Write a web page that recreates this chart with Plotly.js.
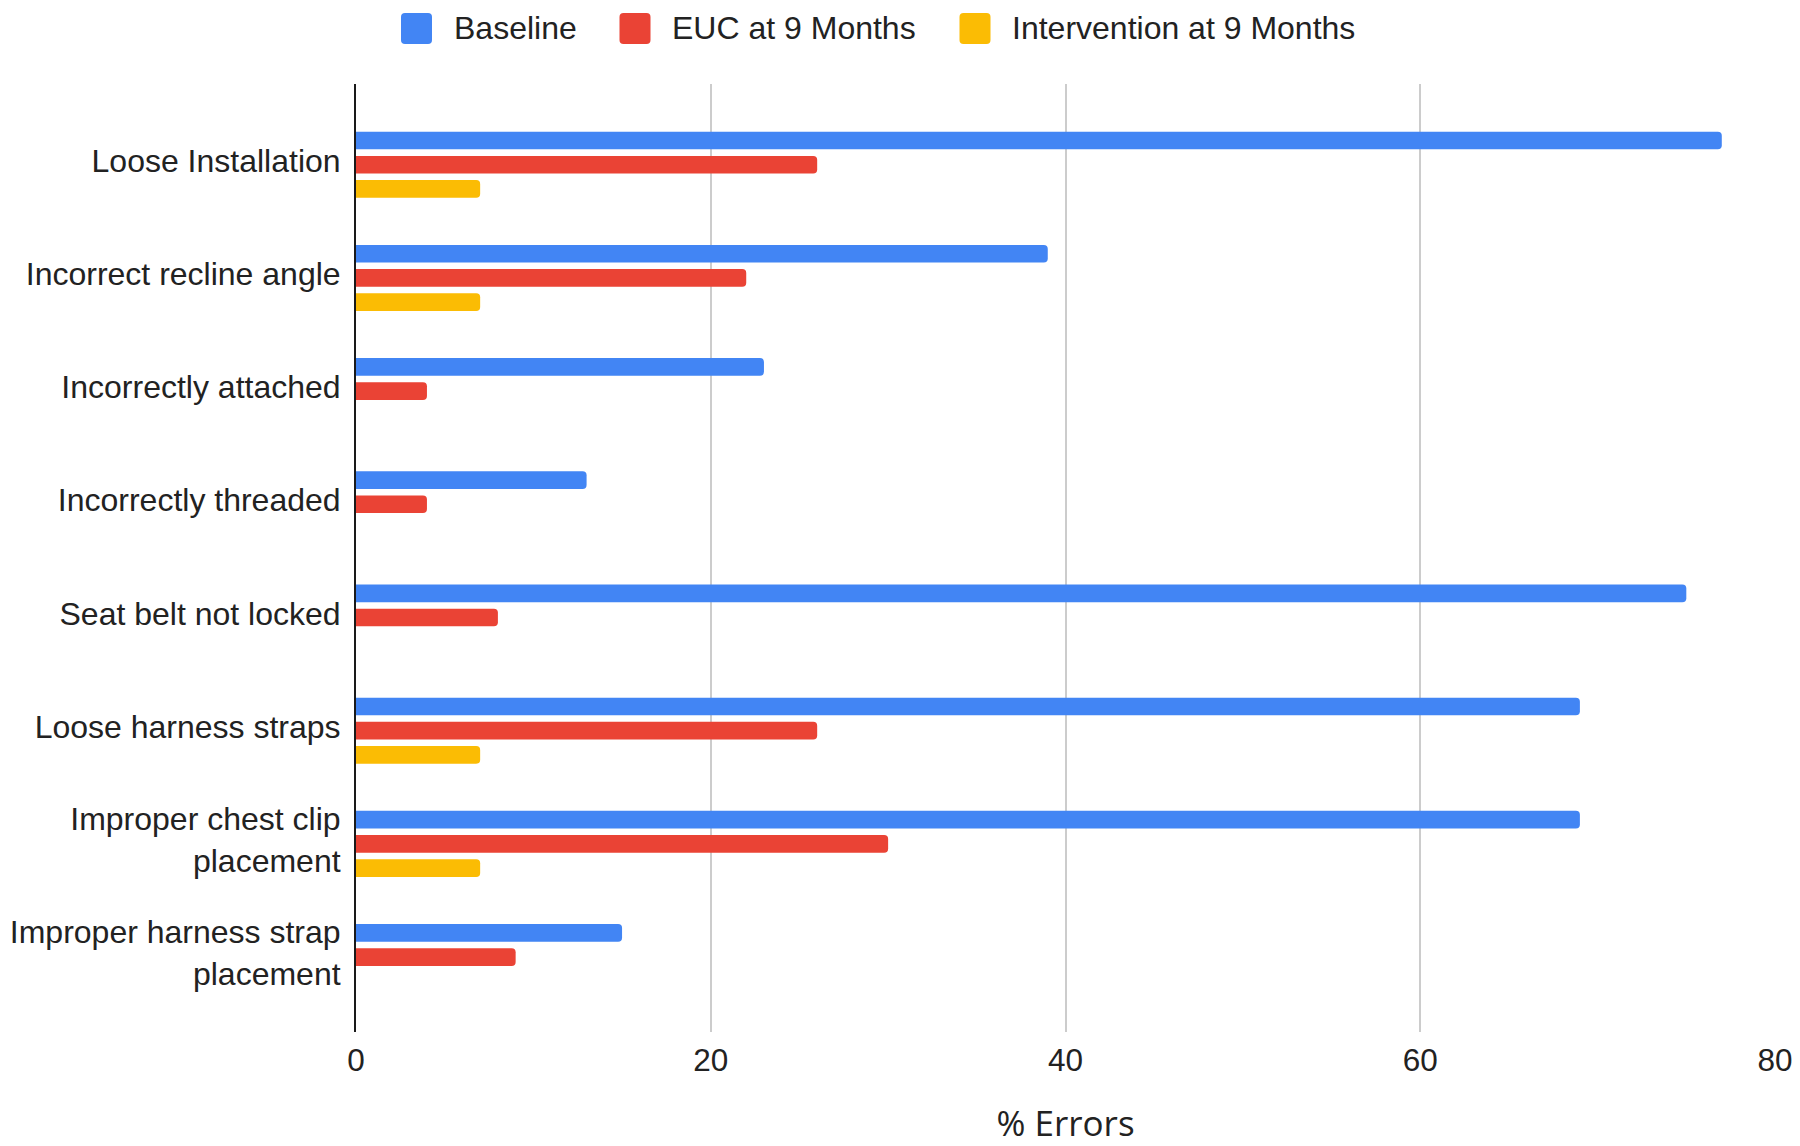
<!DOCTYPE html>
<html>
<head>
<meta charset="utf-8">
<script src="https://cdn.plot.ly/plotly-3.0.1.min.js"></script>
<style>
  html, body { margin: 0; padding: 0; background: #ffffff; }
  #chart { width: 1800px; height: 1146px; }
</style>
</head>
<body>
<div id="chart"></div>
<script>
// ---- Data ----
const categories = [
  "Loose Installation",
  "Incorrect recline angle",
  "Incorrectly attached",
  "Incorrectly threaded",
  "Seat belt not locked",
  "Loose harness straps",
  "Improper chest clip<br>placement",
  "Improper harness strap<br>placement"
];
const seriesNames = ["Baseline", "EUC at 9 Months", "Intervention at 9 Months"];
const baseline     = [77, 39, 23, 13, 75, 69, 69, 15];
const euc9         = [26, 22, 4, 4, 8, 26, 30, 9];
const intervention9 = [7, 7, null, null, null, 7, 7, null];
const xTicks = [0, 20, 40, 60, 80];

// ---- Styles ----
const colors = ["#4285F4", "#EA4335", "#FBBC04"];
const seriesValues = [baseline, euc9, intervention9];
const FONT = "Liberation Sans, Arial, Helvetica, sans-serif";

// plot area in pixels
const M = { l: 356, r: 25, t: 84, b: 114 };
const W = 1800, H = 1146;
const plotW = W - M.l - M.r, plotH = H - M.t - M.b;
const fx = px => (px - M.l) / plotW;
const fy = py => (H - M.b - py) / plotH;

const traces = seriesNames.map((name, i) => ({
  type: "bar",
  orientation: "h",
  name: name,
  y: categories,
  x: seriesValues[i],
  marker: { color: colors[i], cornerradius: 4 },
  hoverinfo: "x+name",
  showlegend: false
}));

// custom legend (large rounded swatches like the reference)
const legendSwatchX = [416.5, 635, 975];
const legendY = 28.5;
const r = 4, h = 15.5;
const swatchPath = `M ${-h + r},${-h} L ${h - r},${-h} Q ${h},${-h} ${h},${-h + r} L ${h},${h - r} Q ${h},${h} ${h - r},${h} L ${-h + r},${h} Q ${-h},${h} ${-h},${h - r} L ${-h},${-h + r} Q ${-h},${-h} ${-h + r},${-h} Z`;

const shapes = seriesNames.map((n, i) => ({
  type: "path",
  xref: "paper", yref: "paper",
  xsizemode: "pixel", ysizemode: "pixel",
  xanchor: fx(legendSwatchX[i]), yanchor: fy(legendY),
  path: swatchPath,
  fillcolor: colors[i],
  line: { width: 0 }
}));

const annotations = seriesNames.map((n, i) => ({
  xref: "paper", yref: "paper",
  x: fx(legendSwatchX[i] + 35), y: fy(legendY),
  xanchor: "left", yanchor: "middle",
  text: n, showarrow: false,
  font: { family: FONT, size: 32, color: "#222222" }
}));

const layout = {
  width: W, height: H,
  margin: M,
  paper_bgcolor: "#ffffff",
  plot_bgcolor: "#ffffff",
  barmode: "group",
  bargap: 0.359,
  bargroupgap: 0.27,
  showlegend: false,
  font: { family: FONT, color: "#222222" },
  xaxis: {
    range: [0, 80],
    tickvals: xTicks,
    ticktext: xTicks.map(String),
    showgrid: true,
    gridcolor: "#cccccc",
    gridwidth: 2,
    zeroline: false,
    showline: false,
    ticks: "",
    ticklabelstandoff: 6,
    tickfont: { family: FONT, size: 31.5, color: "#222222" },
    title: { text: "% Errors", font: { family: "Open Sans, " + FONT, size: 35, color: "#222222" }, standoff: 46 },
    fixedrange: true
  },
  yaxis: {
    type: "category",
    categoryorder: "array",
    categoryarray: categories,
    range: [7.662, -0.713],
    showgrid: false,
    zeroline: false,
    showline: true,
    linecolor: "#1a1a1a",
    linewidth: 2,
    ticks: "",
    ticklabelstandoff: 7,
    ticklabelshift: 4,
    tickfont: { family: FONT, size: 32, color: "#222222" },
    fixedrange: true
  },
  shapes: shapes,
  annotations: annotations
};

Plotly.newPlot("chart", traces, layout, { displayModeBar: false, staticPlot: true });
</script>
</body>
</html>
